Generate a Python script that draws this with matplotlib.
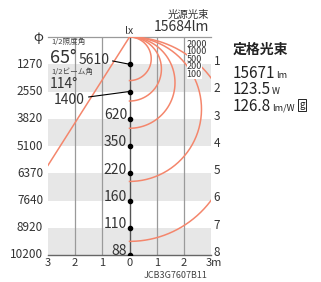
import numpy as np
import matplotlib
matplotlib.use('Agg')
import matplotlib.pyplot as plt

plt.rcParams['font.family'] = ['Noto Sans CJK JP', 'DejaVu Sans']

# data
heights = [1, 2, 3, 4, 5, 6, 7, 8]
diameters = [1270, 2550, 3820, 5100, 6370, 7640, 8920, 10200]
center_lux = [5610, 1400, 620, 350, 220, 160, 110, 88]
isolux_levels = [2000, 1000, 500, 200, 100]
isolux_depth = [1.6, 2.35, 3.35, 5.3, 7.5]   # where each curve meets the axis (m)
half_illum_angle = 65
half_beam_angle = 114
x_ticks = [-3, -2, -1, 0, 1, 2, 3]
x_tick_labels = ['3', '2', '1', '0', '1', '2', '3m']
source_flux = 15684
rated_flux = 15671
rated_watt = 123.5
efficacy = 126.8
model = 'JCB3G7607B11'

W, H = 321, 282
LINE = '#f4866c'
GRID = '#9a9a9a'
BAND = '#e7e7e7'

fig = plt.figure(figsize=(W / 100, H / 100), dpi=100)
ax = fig.add_axes([48 / W, 1 - 255 / H, (211 - 48) / W, (255 - 37) / H])
ax.set_xlim(-3, 3)
ax.set_ylim(8, 0)
ax.axis('off')
renderer = fig.canvas.get_renderer()


def px(x, y):
    return x / W, 1 - y / H


def value_unit(x, y, value, unit, size=11, unit_size=7):
    """Number followed by a smaller unit, sharing a baseline."""
    t = fig.text(*px(x, y), value, ha='left', va='baseline', fontsize=size, color='#222222')
    bb = t.get_window_extent(renderer)
    fig.text((bb.x1 + 0.5) / W, 1 - y / H, unit, ha='left', va='baseline',
             fontsize=unit_size, color='#222222')
    return bb


# grey bands
for lo in heights[0::2]:
    ax.axhspan(lo, lo + 1, color=BAND, lw=0, zorder=0)

# grid
for x in [-2, -1, 1, 2]:
    ax.plot([x, x], [0, 8], color=GRID, lw=0.9, zorder=1)
ax.plot([0, 0], [0, 8], color='#555555', lw=1.0, zorder=2)
ax.plot([-3, 3], [0, 0], color=GRID, lw=0.9, zorder=1, clip_on=False)
ax.plot([-3, 3], [8, 8], color='#666666', lw=1.0, zorder=2, clip_on=False)

# 1/2 illuminance angle line (left)
a = np.radians(half_illum_angle / 2)
ax.plot([0, -3], [0, 3 / np.tan(a)], color=LINE, lw=1.1, zorder=3)

# isolux curves (right half)
t = np.linspace(0, np.pi, 200)
for d in isolux_depth:
    r = d / 2
    ax.plot(r * np.sin(t), r - r * np.cos(t), color=LINE, lw=1.1, zorder=3)

# center illuminance points
ax.plot([0] * len(heights), heights, 'o', color='black', ms=3, zorder=4)
for h, lux in zip(heights, center_lux):
    if h == 1:
        ax.plot([-0.62, 0], [0.88, h], color='black', lw=0.8, zorder=4)
        ax.text(-0.74, 0.85, str(lux), ha='right', va='center', fontsize=10, color='#333333')
    elif h == 2:
        ax.plot([-1.5, 0], [2.2, h], color='black', lw=0.8, zorder=4)
        ax.text(-1.66, 2.3, str(lux), ha='right', va='center', fontsize=10, color='#333333')
    else:
        ax.text(-0.09, h - 0.13, str(lux), ha='right', va='center', fontsize=10, color='#333333')

# left diameters / right heights
ax.text(-3.36, 0.0, 'φ', ha='center', va='center', fontsize=9.5, color='#333333', clip_on=False)
for h, dia in zip(heights, diameters):
    ax.text(-3.18, h, str(dia), ha='right', va='center', fontsize=8.5, color='#333333', clip_on=False)
    ax.text(3.1, h - 0.1, str(h), ha='left', va='center', fontsize=8.5, color='#333333', clip_on=False)

for x, lab in zip(x_ticks, x_tick_labels):
    ax.text(x + (0.12 if lab.endswith('m') else 0), 8.3, lab, ha='center', va='center',
            fontsize=8, color='#333333', clip_on=False)

ax.text(0, -0.22, 'lx', ha='center', va='center', fontsize=7.5, color='#333333', clip_on=False)

# isolux labels
for i, lev in enumerate(isolux_levels):
    ax.text(2.1, 0.26 + i * 0.275, str(lev), ha='left', va='center', fontsize=6.5,
            color='#333333', zorder=5,
            bbox=dict(boxstyle='square,pad=0', fc='white', ec='none'))

# angle annotations
ax.text(-2.87, 0.2, '1/2照度角', ha='left', va='center', fontsize=5.5, color='#444444')
ax.text(-2.92, 0.76, f'{half_illum_angle}°', ha='left', va='center', fontsize=13, color='#333333')
ax.text(-2.87, 1.28, '1/2ビーム角', ha='left', va='center', fontsize=5.5, color='#444444')
ax.text(-2.92, 1.73, f'{half_beam_angle}°', ha='left', va='center', fontsize=10, color='#333333')

# header
fig.text(*px(209, 15), '光源光束', ha='right', va='center', fontsize=7.5, color='#333333')
fig.text(*px(209, 27), f'{source_flux}lm', ha='right', va='center', fontsize=10, color='#333333')

# rated block
fig.text(*px(233, 50), '定格光束', ha='left', va='center', fontsize=10, color='#222222', weight='bold')
value_unit(233, 78, f'{rated_flux}', 'lm', size=11, unit_size=6.5)
value_unit(233, 94, f'{rated_watt}', 'W', size=11, unit_size=6.5)
value_unit(233, 111, f'{efficacy}', 'lm/W', size=11, unit_size=6.5)
fig.text(*px(302, 105), 'g', ha='center', va='center', fontsize=7, color='#222222',
         bbox=dict(boxstyle='square,pad=0.1', fc='white', ec='#222222', lw=0.7))

fig.text(*px(176, 276), model, ha='center', va='center', fontsize=6.5, color='#444444')

fig.savefig('out.png', dpi=100)
